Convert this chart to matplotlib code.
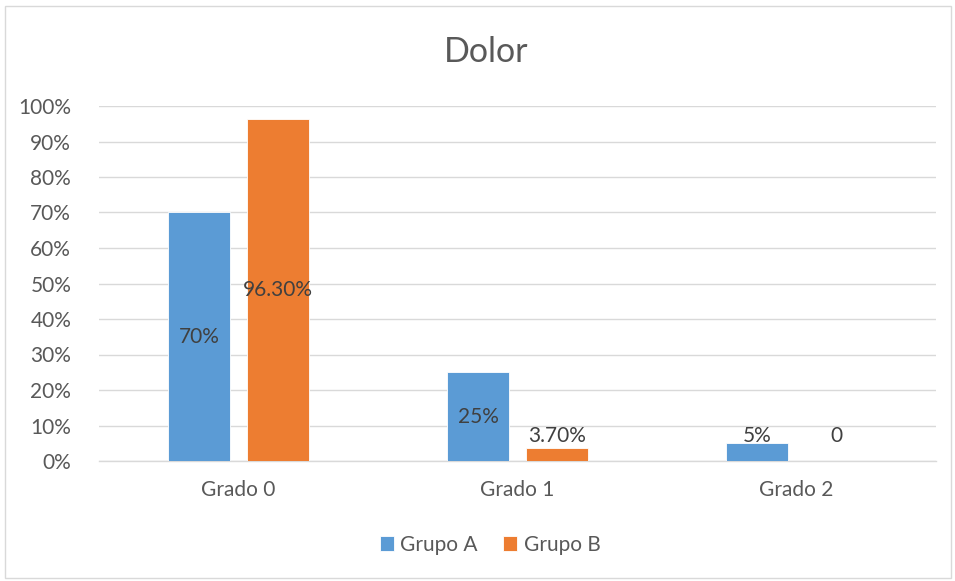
import matplotlib.pyplot as plt
import numpy as np
from matplotlib.patches import Rectangle

categories = ["Grado 0", "Grado 1", "Grado 2"]
grupo_a = [70, 25, 5]
grupo_b = [96.3, 3.7, 0]
labels_a = ["70%", "25%", "5%"]
labels_b = ["96.30%", "3.70%", "0"]
series_names = ["Grupo A", "Grupo B"]

plt.rcParams['font.family'] = ['Lato', 'DejaVu Sans']

fig = plt.figure(figsize=(9.55, 5.81), dpi=100)
ax = fig.add_axes([99 / 955, 120 / 581, 837 / 955, 355 / 581])

x = np.arange(len(categories))
width = 0.222
offset = (width + 0.061) / 2
colors = ["#5B9BD5", "#ED7D31"]

for vals, labs, dx, col, name in [(grupo_a, labels_a, -offset, colors[0], series_names[0]),
                                  (grupo_b, labels_b, offset, colors[1], series_names[1])]:
    ax.bar(x + dx, vals, width, color=col, edgecolor="white", linewidth=0.6,
           label=name, zorder=3)
    for xi, v, lab in zip(x + dx, vals, labs):
        # small bars get their label lifted to stay readable
        ax.text(xi, max(v / 2, 7), lab, ha="center", va="center",
                fontsize=15, color="#404040", zorder=4)

ax.set_xlim(-0.5, 2.5)
ax.set_ylim(0, 100)
ax.set_yticks(range(0, 101, 10))
ax.set_yticklabels([f"{t}%" for t in range(0, 101, 10)])
ax.set_xticks(x)
ax.set_xticklabels(categories)
ax.tick_params(axis="both", length=0, labelsize=15, labelcolor="#595959")
ax.tick_params(axis="x", pad=14)
ax.tick_params(axis="y", pad=20)
ax.yaxis.grid(True, color="#D9D9D9", linewidth=1, zorder=0)
for side in ["top", "right", "left"]:
    ax.spines[side].set_visible(False)
ax.spines["bottom"].set_color("#D9D9D9")
ax.spines["bottom"].set_linewidth(1)

fig.text(486 / 955, 1 - 52 / 581, "Dolor", ha="center", va="center",
         fontsize=24.5, color="#595959")

fig.legend(loc="center", bbox_to_anchor=(490 / 955, 1 - 545 / 581), ncol=2,
           frameon=False, fontsize=15, handlelength=0.7, handleheight=0.7,
           handletextpad=0.3, columnspacing=1.2, labelcolor="#595959")

fig.add_artist(Rectangle((5 / 955, 3 / 581), 946 / 955, 572 / 581,
                         transform=fig.transFigure, fill=False,
                         edgecolor="#D9D9D9", linewidth=1))

fig.savefig("out.png", dpi=100, facecolor="white")
